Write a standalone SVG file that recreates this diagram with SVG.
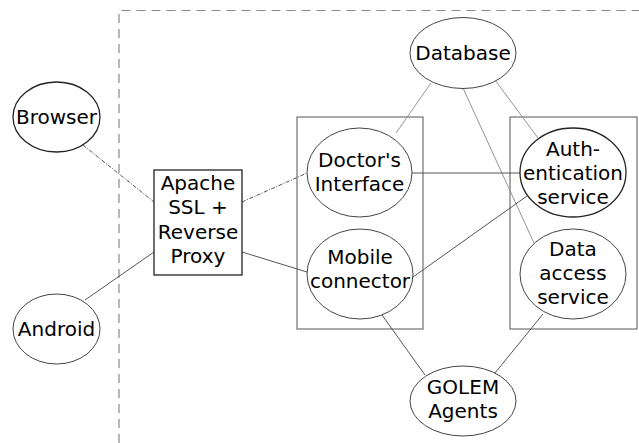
<svg xmlns="http://www.w3.org/2000/svg" width="639" height="443" viewBox="0 0 639 443">
<style>
.node{fill:#fff;stroke:#222;stroke-width:1.3}
.ell{fill:#fff;stroke:#444;stroke-width:1}
.grp{fill:none;stroke:#555;stroke-width:1}
.t{font-family:"DejaVu Sans",sans-serif;font-size:20px;fill:#000;text-anchor:middle}
.c{stroke:#555;stroke-width:1;fill:none}
.cd{stroke:#555;stroke-width:1;fill:none;stroke-dasharray:4,1.5,1,1.5}
.cl{stroke:#888;stroke-width:0.9;fill:none}
</style>
<rect width="639" height="443" fill="#fff"/>
<path d="M119,443 V10.5 H639" fill="none" stroke="#888" stroke-width="1.2" stroke-dasharray="9,6"/>
<rect class="grp" x="297" y="117" width="126" height="212"/>
<rect class="grp" x="510" y="117" width="127" height="212"/>
<g id="connectors">
<line class="cd" x1="83" y1="145" x2="154" y2="202"/>
<line class="cd" x1="242" y1="202" x2="307" y2="173"/>
<line class="c" x1="85" y1="300" x2="154" y2="252"/>
<line class="c" x1="242" y1="252" x2="307" y2="272"/>
<line class="cl" x1="431" y1="83" x2="396" y2="133"/>
<line class="cl" x1="463" y1="88" x2="534" y2="243"/>
<line class="cl" x1="495" y1="80" x2="538" y2="138"/>
<line class="c" x1="412" y1="173" x2="520" y2="173"/>
<line class="c" x1="413" y1="277" x2="527" y2="196"/>
<line class="c" x1="382" y1="315" x2="425" y2="375"/>
<line class="c" x1="543" y1="314" x2="495" y2="373"/>
</g>
<g id="browser"><ellipse class="node" cx="56.5" cy="117" rx="43.5" ry="35"/><text class="t" x="56.5" y="124">Browser</text></g>
<g id="android"><ellipse class="ell" cx="56.5" cy="329" rx="43.5" ry="35"/><text class="t" x="56.5" y="336">Android</text></g>
<g id="apache"><rect class="node" x="154" y="170" width="88" height="105" stroke-width="1.6"/>
<text class="t" x="198" y="190">Apache</text><text class="t" x="198" y="214">SSL +</text><text class="t" x="198" y="239">Reverse</text><text class="t" x="198" y="263">Proxy</text></g>
<g id="database"><ellipse class="ell" cx="463" cy="53" rx="53" ry="35.5"/><text class="t" x="463" y="60">Database</text></g>
<g id="doctors"><ellipse class="ell" cx="359.5" cy="172.5" rx="52.5" ry="44.5"/><text class="t" x="359.5" y="167">Doctor's</text><text class="t" x="359.5" y="191">Interface</text></g>
<g id="mobile"><ellipse class="ell" cx="360" cy="274" rx="53" ry="45"/><text class="t" x="360" y="264">Mobile</text><text class="t" x="360" y="288">connector</text></g>
<g id="auth"><ellipse class="node" cx="573" cy="172.5" rx="53" ry="44.5"/><text class="t" x="573" y="156">Auth-</text><text class="t" x="573" y="180">entication</text><text class="t" x="573" y="204">service</text></g>
<g id="data"><ellipse class="ell" cx="573" cy="274" rx="53" ry="45"/><text class="t" x="573" y="256">Data</text><text class="t" x="573" y="280">access</text><text class="t" x="573" y="304">service</text></g>
<g id="golem"><ellipse class="ell" cx="463" cy="401" rx="53" ry="35"/><text class="t" x="463" y="394">GOLEM</text><text class="t" x="463" y="418">Agents</text></g>
</svg>
